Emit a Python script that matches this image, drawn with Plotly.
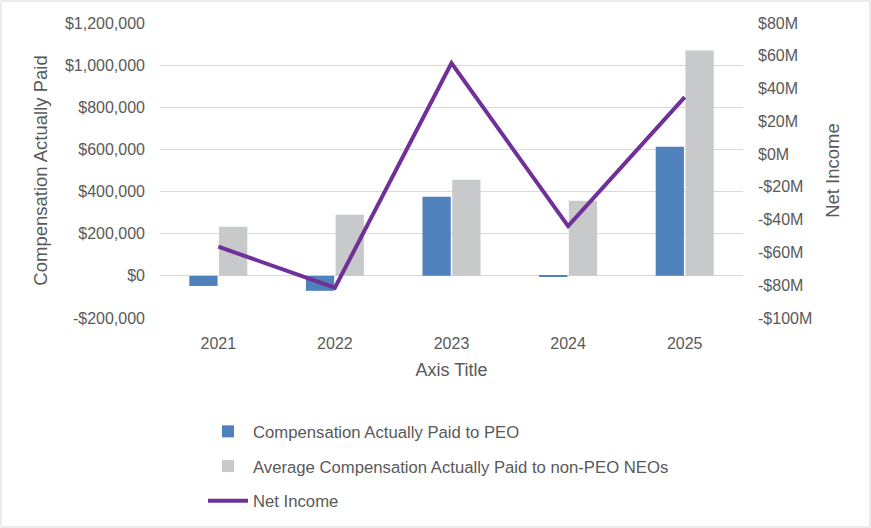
import plotly.graph_objects as go

years = ["2021", "2022", "2023", "2024", "2025"]
cap_peo = [-48000, -71000, 375000, -5000, 613000]
cap_neo = [233000, 290000, 456000, 356000, 1069000]
net_income_m = [-56.5, -81.5, 55.5, -43.9, 34.8]

left_vals = [-200000, 0, 200000, 400000, 600000, 800000, 1000000, 1200000]
left_text = ["-$200,000", "$0", "$200,000", "$400,000", "$600,000", "$800,000", "$1,000,000", "$1,200,000"]
right_vals = [-100, -80, -60, -40, -20, 0, 20, 40, 60, 80]
right_text = ["-$100M", "-$80M", "-$60M", "-$40M", "-$20M", "$0M", "$20M", "$40M", "$60M", "$80M"]

FONT = "Liberation Sans"
GREY = "#595959"

fig = go.Figure()
fig.add_trace(go.Bar(x=years, y=cap_peo, name="Compensation Actually Paid to PEO",
                     legendgroup="a", marker=dict(color="#4F81BD", line=dict(width=0))))
fig.add_trace(go.Bar(x=years, y=cap_neo, name="Average Compensation Actually Paid to non-PEO NEOs",
                     legendgroup="b", marker=dict(color="#C8C9CB", line=dict(width=0))))
fig.add_trace(go.Scatter(x=years, y=net_income_m, name="Net Income", mode="lines",
                         legendgroup="c", line=dict(color="#70309A", width=4), yaxis="y2"))

W, H = 871, 528
L, R, T, B = 160, 128, 23, 210
pw, ph = W - L - R, H - T - B

fig.update_layout(
    width=W, height=H,
    margin=dict(l=L, r=R, t=T, b=B, autoexpand=False),
    paper_bgcolor="white", plot_bgcolor="white",
    font=dict(family=FONT, size=16, color=GREY),
    barmode="group", bargap=0.49, bargroupgap=0.05,
    xaxis=dict(title=dict(text="Axis Title", font=dict(size=18, color=GREY), standoff=12),
               showgrid=False, showline=False, ticks="", tickfont=dict(size=16),
               ticklabelstandoff=14),
    yaxis=dict(title=dict(text="Compensation Actually Paid", font=dict(size=18.5, color=GREY), standoff=12),
               range=[-200000, 1200000], tickvals=left_vals, ticktext=left_text,
               showgrid=True, gridcolor="#D9D9D9", gridwidth=1, zeroline=False,
               ticks="", ticklabelstandoff=14),
    yaxis2=dict(title=dict(text="Net Income", font=dict(size=18.5, color=GREY), standoff=14),
                range=[-100, 80], tickvals=right_vals, ticktext=right_text,
                overlaying="y", side="right", showgrid=False, zeroline=False,
                ticks="", ticklabelstandoff=14),
    legend=dict(orientation="v", x=(203 - L) / pw, xanchor="left",
                yref="container", y=1 - 414 / H, yanchor="top",
                font=dict(size=16.7, color=GREY), itemwidth=40, tracegroupgap=10,
                traceorder="grouped", bgcolor="rgba(0,0,0,0)"),
    showlegend=True,
    shapes=[dict(type="rect", xref="paper", yref="paper",
                 x0=-(L - 1) / pw, x1=1 + (R - 1) / pw,
                 y0=-(B - 1) / ph, y1=1 + (T - 1) / ph,
                 line=dict(color="#D9D9D9", width=1), layer="below")],
)

fig.write_html("out.html")
